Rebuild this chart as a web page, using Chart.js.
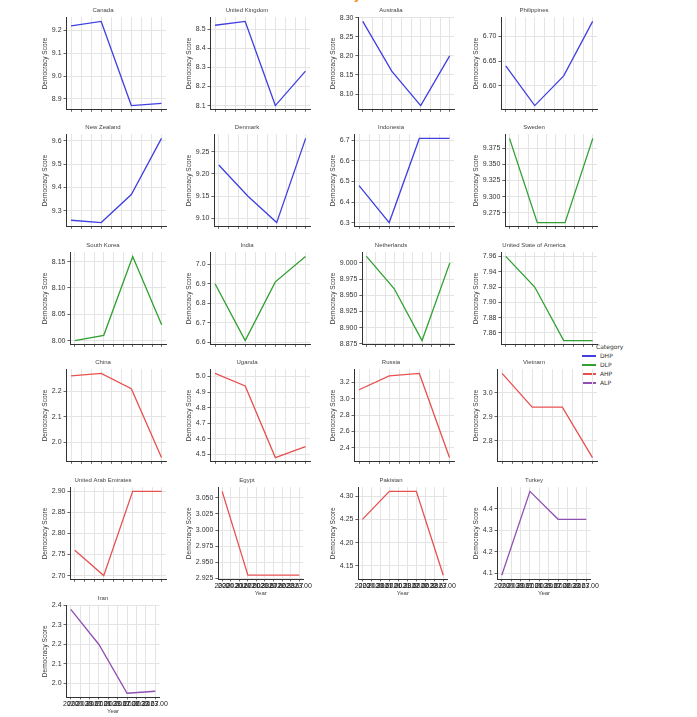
<!DOCTYPE html>
<html>
<head>
<meta charset="utf-8">
<script src="https://cdn.jsdelivr.net/npm/chart.js@4"></script>
<style>
  body { margin: 0; background: #fff; font-family: "DejaVu Sans", sans-serif; }
  #wrap { position: relative; width: 697px; height: 717px; overflow: hidden; }
  .cell { position: absolute; }
  #head { position: absolute; top: -12px; left: 0; width: 697px; text-align: center; color: #f08c1e; font-size: 12px; font-weight: bold; }
  #legend { position: absolute; left: 580px; top: 342px; font-size: 6px; color: #333; background: rgba(255,255,255,0.85); line-height: 9px; padding: 0 2px; }
  #legend i { display: inline-block; width: 14px; height: 0; border-top: 2px solid; vertical-align: middle; margin-right: 4px; }
</style>
</head>
<body>
<div id="wrap">
  <div id="head">Democracy Scores</div>
  <div id="legend">
    <div style="padding-left:14px">Category</div>
    <div><i style="border-top-color:#4040e0"></i>DHP</div>
    <div><i style="border-top-color:#30a030"></i>DLP</div>
    <div><i style="border-top-color:#e85050"></i>AHP</div>
    <div><i style="border-top-color:#9050b0"></i>ALP</div>
  </div>
</div>
<script>
const years = [2020, 2021, 2022, 2023];
const countries = ['Canada', 'United Kingdom', 'Australia', 'Philippines',
  'New Zealand', 'Denmark', 'Indonesia', 'Sweden',
  'South Korea', 'India', 'Netherlands', 'United State of America',
  'China', 'Uganda', 'Russia', 'Vietnam',
  'United Arab Emirates', 'Egypt', 'Pakistan', 'Turkey', 'Iran'];
const categories = ['DHP', 'DHP', 'DHP', 'DHP', 'DHP', 'DHP', 'DHP', 'DLP',
  'DLP', 'DLP', 'DLP', 'DLP', 'AHP', 'AHP', 'AHP', 'AHP',
  'AHP', 'AHP', 'AHP', 'ALP', 'ALP'];
const scores = [
  [9.22, 9.24, 8.87, 8.88],
  [8.52, 8.54, 8.10, 8.28],
  [8.29, 8.16, 8.07, 8.20],
  [6.64, 6.56, 6.62, 6.73],
  [9.26, 9.25, 9.37, 9.61],
  [9.22, 9.15, 9.09, 9.28],
  [6.48, 6.30, 6.71, 6.71],
  [9.39, 9.26, 9.26, 9.39],
  [8.00, 8.01, 8.16, 8.03],
  [6.90, 6.61, 6.91, 7.04],
  [9.01, 8.96, 8.88, 9.00],
  [7.96, 7.92, 7.85, 7.85],
  [2.26, 2.27, 2.21, 1.94],
  [5.02, 4.94, 4.48, 4.55],
  [3.11, 3.28, 3.31, 2.28],
  [3.08, 2.94, 2.94, 2.73],
  [2.76, 2.70, 2.90, 2.90],
  [3.06, 2.93, 2.93, 2.93],
  [4.25, 4.31, 4.31, 4.13],
  [4.09, 4.48, 4.35, 4.35],
  [2.38, 2.20, 1.95, 1.96]
];
const yTicks = [
  [8.9, 9.0, 9.1, 9.2],
  [8.1, 8.2, 8.3, 8.4, 8.5],
  [8.10, 8.15, 8.20, 8.25, 8.30],
  [6.60, 6.65, 6.70],
  [9.3, 9.4, 9.5, 9.6],
  [9.10, 9.15, 9.20, 9.25],
  [6.3, 6.4, 6.5, 6.6, 6.7],
  [9.275, 9.300, 9.325, 9.350, 9.375],
  [8.00, 8.05, 8.10, 8.15],
  [6.6, 6.7, 6.8, 6.9, 7.0],
  [8.875, 8.900, 8.925, 8.950, 8.975, 9.000],
  [7.86, 7.88, 7.90, 7.92, 7.94, 7.96],
  [2.0, 2.1, 2.2],
  [4.5, 4.6, 4.7, 4.8, 4.9, 5.0],
  [2.4, 2.6, 2.8, 3.0, 3.2],
  [2.8, 2.9, 3.0],
  [2.70, 2.75, 2.80, 2.85, 2.90],
  [2.925, 2.950, 2.975, 3.000, 3.025, 3.050],
  [4.15, 4.20, 4.25, 4.30],
  [4.1, 4.2, 4.3, 4.4],
  [2.0, 2.1, 2.2, 2.3, 2.4]
];
const catColors = { DHP: '#4040e0', DLP: '#30a030', AHP: '#e85050', ALP: '#9050b0' };
const bottomRow = ['Egypt', 'Pakistan', 'Turkey', 'Iran'];

const colLeft = [40, 184, 328, 471];
const rowTop = [5, 122, 240, 357, 475, 593];
const wrap = document.getElementById('wrap');

countries.forEach((name, i) => {
  const col = i % 4, row = Math.floor(i / 4);
  const showX = bottomRow.includes(name);
  const div = document.createElement('div');
  div.className = 'cell';
  div.style.left = colLeft[col] + 'px';
  div.style.top = rowTop[row] + 'px';
  div.style.width = '128px';
  div.style.height = (showX ? 122 : 111) + 'px';
  const cv = document.createElement('canvas');
  div.appendChild(cv);
  wrap.appendChild(div);

  const vals = scores[i];
  const lo = Math.min(...vals), hi = Math.max(...vals), pad = (hi - lo) * 0.05;
  const ticks = yTicks[i];
  const dec = Math.max(...ticks.map(t => (String(t).split('.')[1] || '').length), 1);

  new Chart(cv, {
    type: 'line',
    data: {
      datasets: [{
        data: years.map((y, k) => ({ x: y, y: vals[k] })),
        borderColor: catColors[categories[i]],
        borderWidth: 1.3,
        pointRadius: 0,
        tension: 0
      }]
    },
    options: {
      responsive: true,
      maintainAspectRatio: false,
      animation: false,
      layout: { padding: { top: 0, right: 2 } },
      plugins: {
        legend: { display: false },
        tooltip: { enabled: false },
        title: { display: true, text: name, color: '#444', font: { size: 6, weight: 'normal' }, padding: { top: 2, bottom: 3 } }
      },
      scales: {
        x: {
          type: 'linear',
          min: 2020 - 0.15, max: 2023 + 0.15,
          afterBuildTicks: ax => {
            const t = [];
            for (let k = 0; k <= 9; k++) t.push({ value: 2020 + k / 3 });
            ax.ticks = t;
          },
          grid: { color: '#e4e4e4', tickLength: 2, tickColor: '#666' },
          border: { color: '#333', width: 1 },
          ticks: {
            display: showX, color: '#222', font: { size: 7 }, maxRotation: 0, autoSkip: false, padding: 0,
            callback: v => v === 2020 ? '2020' : v.toFixed(2)
          },
          title: { display: showX, text: 'Year', color: '#444', font: { size: 6 }, padding: 0 }
        },
        y: {
          min: lo - pad, max: hi + pad,
          afterBuildTicks: ax => { ax.ticks = ticks.map(v => ({ value: v })); },
          grid: { color: '#e4e4e4', tickLength: 3, tickColor: '#666' },
          border: { color: '#333', width: 1 },
          ticks: { color: '#333', font: { size: 7 }, padding: 2, callback: v => v.toFixed(dec) },
          title: { display: true, text: 'Democracy Score', color: '#333', font: { size: 6.5 }, padding: 1 }
        }
      }
    }
  });
});
</script>
</body>
</html>
